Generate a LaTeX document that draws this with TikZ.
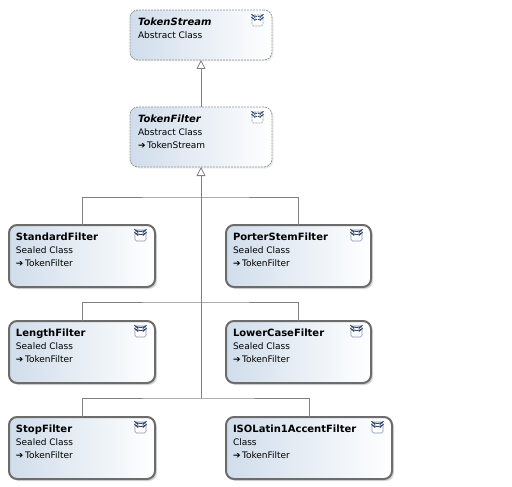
\documentclass[tikz,border=0pt]{standalone}
\usepackage{fontspec}
\setmainfont{DejaVu Sans}
\usetikzlibrary{positioning}
\usetikzlibrary{arrows.meta}
\usetikzlibrary{shadows}
\definecolor{boxblue}{RGB}{208,221,235}
\definecolor{boxframe}{RGB}{108,108,108}
\definecolor{dashframe}{RGB}{150,150,150}
\definecolor{linkgray}{RGB}{128,128,128}
\definecolor{iconframe}{RGB}{128,150,178}
\definecolor{iconmark}{RGB}{52,72,118}
\newcommand{\inh}{{\fontsize{9}{9}\selectfont ➔}\,}
\tikzset{classbase/.style={rectangle,
                        rounded corners=8pt,
                        inner xsep=7pt,
                        inner ysep=0pt,
                        outer sep=0pt,
                        left color=boxblue,
                        right color=white,
                        font=\fontsize{9}{13}\selectfont,
                        path picture={
                            \draw[iconframe, rounded corners=1.5pt, fill=white, line width=0.7pt]
                                ([shift={(-20pt,-5pt)}]path picture bounding box.north east) rectangle ++(11pt,-11pt);
                            \draw[iconmark, line width=0.9pt]
                                ([shift={(-16.8pt,-7.6pt)}]path picture bounding box.north east) -- ++(2.3pt,-2pt) -- ++(2.3pt,2pt);
                            \draw[iconmark, line width=0.9pt]
                                ([shift={(-16.8pt,-10.6pt)}]path picture bounding box.north east) -- ++(2.3pt,-2pt) -- ++(2.3pt,2pt);
                        }
                        },
        sealedclass/.style={classbase,
                        draw=boxframe,
                        line width=2pt,
                        drop shadow={shadow xshift=2pt, shadow yshift=-2pt, opacity=0.3}
                        },
        abstractclass/.style={classbase,
                        draw=dashframe,
                        line width=0.8pt,
                        dash pattern=on 2pt off 1pt,
                        inner xsep=8pt,
                        drop shadow={shadow xshift=1.5pt, shadow yshift=-1.5pt, opacity=0.15}
                        },
        link/.style={linkgray, line width=1pt},
        inherits/.style={link, -{Triangle[open, length=9pt, width=9pt, line width=0.8pt]}},
}

\begin{document}
\begin{tikzpicture}[x=1pt,y=1pt]
    \useasboundingbox (0,0) rectangle (512,-487);

    % ABSTRACT CLASSES
    \node[abstractclass] (tokenStream) at (201,-35) {
        \parbox[c][50pt][t]{126pt}{\rule{0pt}{16pt}{\fontsize{10}{13}\selectfont\bfseries\itshape TokenStream}\\
        Abstract Class}
    };

    \node[abstractclass, below=47pt of tokenStream] (tokenFilter) {
        \parbox[c][60pt][t]{126pt}{\rule{0pt}{15pt}{\fontsize{10}{13}\selectfont\bfseries\itshape TokenFilter}\\
        Abstract Class\\
        \inh TokenStream}
    };

    % SEALED CLASSES
    \node[sealedclass] (standardFilter) at (82,-256) {
        \parbox[c][62pt][t]{132pt}{\rule{0pt}{15pt}{\fontsize{10}{13}\selectfont\bfseries StandardFilter}\\
        Sealed Class\\
        \inh TokenFilter}
    };

    \node[sealedclass, below=34pt of standardFilter] (lengthFilter) {
        \parbox[c][62pt][t]{132pt}{\rule{0pt}{15pt}{\fontsize{10}{13}\selectfont\bfseries LengthFilter}\\
        Sealed Class\\
        \inh TokenFilter}
    };

    \node[sealedclass, below=34pt of lengthFilter] (stopFilter) {
        \parbox[c][62pt][t]{132pt}{\rule{0pt}{15pt}{\fontsize{10}{13}\selectfont\bfseries StopFilter}\\
        Sealed Class\\
        \inh TokenFilter}
    };

    \node[sealedclass, right=71pt of standardFilter] (porterStemFilter) {
        \parbox[c][62pt][t]{131pt}{\rule{0pt}{15pt}{\fontsize{10}{13}\selectfont\bfseries PorterStemFilter}\\
        Sealed Class\\
        \inh TokenFilter}
    };

    \node[sealedclass, right=71pt of lengthFilter] (lowerCaseFilter) {
        \parbox[c][62pt][t]{131pt}{\rule{0pt}{15pt}{\fontsize{10}{13}\selectfont\bfseries LowerCaseFilter}\\
        Sealed Class\\
        \inh TokenFilter}
    };

    \node[sealedclass, right=71pt of stopFilter.east, anchor=west] (isoLatinFilter) {
        \parbox[c][62pt][t]{152pt}{\rule{0pt}{15pt}{\fontsize{10}{13}\selectfont\bfseries ISOLatin1AccentFilter}\\
        Class\\
        \inh TokenFilter}
    };

    % INHERITANCE
    \coordinate (busA) at (201,-197);
    \coordinate (busB) at (201,-302);
    \coordinate (busC) at (201,-398);

    \draw[inherits] (tokenFilter) -- (tokenStream);
    \draw[inherits] (busC) -- (tokenFilter);

    \draw[link] (standardFilter.north) |- (busA) -| (porterStemFilter.north);
    \draw[link] (lengthFilter.north) |- (busB) -| (lowerCaseFilter.north);
    \draw[link] (stopFilter.north) |- (busC) -| (isoLatinFilter.north);

\end{tikzpicture}
\end{document}
